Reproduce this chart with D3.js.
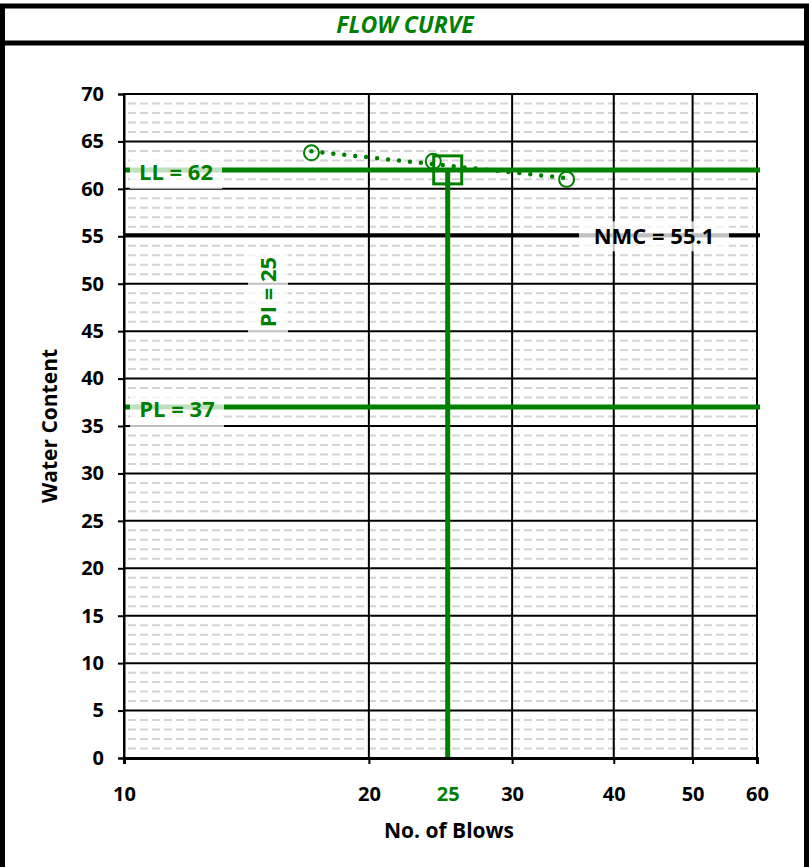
<!DOCTYPE html>
<html>
<head>
<meta charset="utf-8">
<script src="https://cdn.jsdelivr.net/npm/d3@7"></script>
<style>
  body { margin: 0; background: #fff; }
  svg { display: block; font-family: "Open Sans", sans-serif; font-weight: bold; }
</style>
</head>
<body>
<svg id="chart" width="809" height="867"></svg>
<script>
// test points: blows vs water content
var blows = [17, 24, 35];
var water = [63.8, 62.9, 61.0];

var xTicks = [10, 20, 25, 30, 40, 50, 60];
var yTicks = [0, 5, 10, 15, 20, 25, 30, 35, 40, 45, 50, 55, 60, 65, 70];

var LL = 62, PL = 37, PI = 25, NMC = 55.1;
var refBlows = 25;

var GREEN = '#008000';
var FONT = '"Open Sans", sans-serif';

var svg = d3.select('#chart');
var W = 809, H = 867;

// outer frame
svg.append('rect')
  .attr('x', 2.5).attr('y', 6).attr('width', W - 5).attr('height', H + 10)
  .attr('fill', 'none').attr('stroke', 'black').attr('stroke-width', 5);
svg.append('line')
  .attr('x1', 0).attr('x2', W).attr('y1', 43).attr('y2', 43)
  .attr('stroke', 'black').attr('stroke-width', 5);
svg.append('text')
  .attr('x', 405).attr('y', 33)
  .attr('text-anchor', 'middle')
  .attr('font-size', '23px').attr('font-style', 'italic')
  .attr('fill', GREEN)
  .text('FLOW CURVE');

var pL = 124, pR = 757, pT = 94, pB = 758;

var x = d3.scaleLog().domain([10, 60]).range([pL, pR]);
var y = d3.scaleLinear().domain([0, 70]).range([pB, pT]);

var g = svg.append('g');

// minor horizontal grid (every 1)
var minor = d3.range(1, 70).filter(function(v){ return v % 5 !== 0; });
g.selectAll('.minor')
  .data(minor)
  .enter().append('line')
  .attr('class', 'minor')
  .attr('x1', pL + 4).attr('x2', pR - 4)
  .attr('y1', function(d){ return y(d); })
  .attr('y2', function(d){ return y(d); })
  .attr('stroke', '#d4d4d4')
  .attr('stroke-width', 2)
  .attr('stroke-dasharray', '8,4');

// major horizontal grid
g.selectAll('.hmajor')
  .data(yTicks.filter(function(d){ return d > 0 && d < 70; }))
  .enter().append('line')
  .attr('class', 'hmajor')
  .attr('x1', pL).attr('x2', pR)
  .attr('y1', function(d){ return y(d); })
  .attr('y2', function(d){ return y(d); })
  .attr('stroke', 'black')
  .attr('stroke-width', 2);

// major vertical grid
g.selectAll('.vmajor')
  .data([20, 30, 40, 50])
  .enter().append('line')
  .attr('class', 'vmajor')
  .attr('x1', function(d){ return x(d); })
  .attr('x2', function(d){ return x(d); })
  .attr('y1', pT).attr('y2', pB)
  .attr('stroke', 'black')
  .attr('stroke-width', 2);

// plot border
g.append('rect')
  .attr('x', pL).attr('y', pT)
  .attr('width', pR - pL).attr('height', pB - pT)
  .attr('fill', 'none').attr('stroke', 'black').attr('stroke-width', 2);

// y axis ticks + labels
var yAxis = d3.axisLeft(y).tickValues(yTicks).tickSize(6).tickPadding(14);
var ya = svg.append('g')
  .attr('transform', 'translate(' + pL + ',0)')
  .call(yAxis);
ya.select('.domain').attr('stroke-width', 2);
ya.selectAll('.tick line').attr('stroke-width', 2);
ya.selectAll('.tick text')
  .attr('font-size', '20px').attr('font-weight', 'bold')
  .attr('font-family', FONT).attr('fill', 'black');

// x axis ticks + labels
var xAxis = d3.axisBottom(x).tickValues(xTicks).tickSize(6).tickPadding(23)
  .tickFormat(d3.format('d'));
var xa = svg.append('g')
  .attr('transform', 'translate(0,' + pB + ')')
  .call(xAxis);
xa.select('.domain').attr('stroke-width', 3);
xa.selectAll('.tick line').attr('stroke-width', 2)
  .attr('opacity', function(d){ return d === refBlows ? 0 : 1; });
xa.selectAll('.tick text')
  .attr('font-size', '20px').attr('font-weight', 'bold')
  .attr('font-family', FONT)
  .attr('fill', function(d){ return d === refBlows ? GREEN : 'black'; });

// axis titles
svg.append('text')
  .attr('x', 449).attr('y', 838)
  .attr('text-anchor', 'middle')
  .attr('font-size', '21px')
  .text('No. of Blows');
svg.append('text')
  .attr('transform', 'translate(57,' + 426 + ') rotate(-90)')
  .attr('text-anchor', 'middle')
  .attr('font-size', '21px')
  .text('Water Content');

// NMC line
g.append('line')
  .attr('x1', pL).attr('x2', pR + 3)
  .attr('y1', y(NMC)).attr('y2', y(NMC))
  .attr('stroke', 'black').attr('stroke-width', 4);

// LL and PL lines
[LL, PL].forEach(function(v){
  g.append('line')
    .attr('x1', pL).attr('x2', pR + 3)
    .attr('y1', y(v)).attr('y2', y(v))
    .attr('stroke', GREEN).attr('stroke-width', 5);
});

// vertical line at 25 blows
g.append('line')
  .attr('x1', x(refBlows)).attr('x2', x(refBlows))
  .attr('y1', y(LL)).attr('y2', pB + 2)
  .attr('stroke', GREEN).attr('stroke-width', 5);

// trendline (least squares on log blows)
var lx = blows.map(function(d){ return Math.log10(d); });
var mx = d3.mean(lx), my = d3.mean(water);
var slope = d3.sum(lx, function(d, i){ return (d - mx) * (water[i] - my); }) /
            d3.sum(lx, function(d){ return (d - mx) * (d - mx); });
var icpt = my - slope * mx;
var trend = [d3.min(blows), d3.max(blows)].map(function(b){
  return [b, icpt + slope * Math.log10(b)];
});
g.append('path')
  .datum(trend)
  .attr('d', d3.line().x(function(d){ return x(d[0]); }).y(function(d){ return y(d[1]); }))
  .attr('fill', 'none')
  .attr('stroke', GREEN).attr('stroke-width', 4.5)
  .attr('stroke-linecap', 'round')
  .attr('stroke-dasharray', '0,11');

// data points
g.selectAll('.pt')
  .data(blows)
  .enter().append('circle')
  .attr('class', 'pt')
  .attr('cx', function(d){ return x(d); })
  .attr('cy', function(d, i){ return y(water[i]); })
  .attr('r', 7.5)
  .attr('fill', 'none')
  .attr('stroke', GREEN).attr('stroke-width', 2);

// LL marker square
g.append('rect')
  .attr('x', x(refBlows) - 14).attr('y', y(LL) - 14)
  .attr('width', 28).attr('height', 28)
  .attr('fill', 'none')
  .attr('stroke', GREEN).attr('stroke-width', 3);

// labels with translucent background
function label(cx, cy, w, h, txt, color, rot) {
  var lg = svg.append('g').attr('transform', 'translate(' + cx + ',' + cy + ')' + (rot ? ' rotate(-90)' : ''));
  lg.append('rect')
    .attr('x', -w / 2).attr('y', -h / 2).attr('width', w).attr('height', h)
    .attr('fill', 'white').attr('fill-opacity', 0.75);
  lg.append('text')
    .attr('text-anchor', 'middle').attr('dy', '0.36em')
    .attr('font-size', '22px')
    .attr('fill', color)
    .text(txt);
}
label(176, y(LL) + 2, 92, 34, 'LL = ' + LL, GREEN);
label(177, y(PL) + 2, 94, 36, 'PL = ' + PL, GREEN);
label(268, 292, 84, 40, 'PI = ' + PI, GREEN, true);
label(654, y(NMC) + 1, 150, 30, 'NMC =  ' + NMC, 'black');
</script>
</body>
</html>
